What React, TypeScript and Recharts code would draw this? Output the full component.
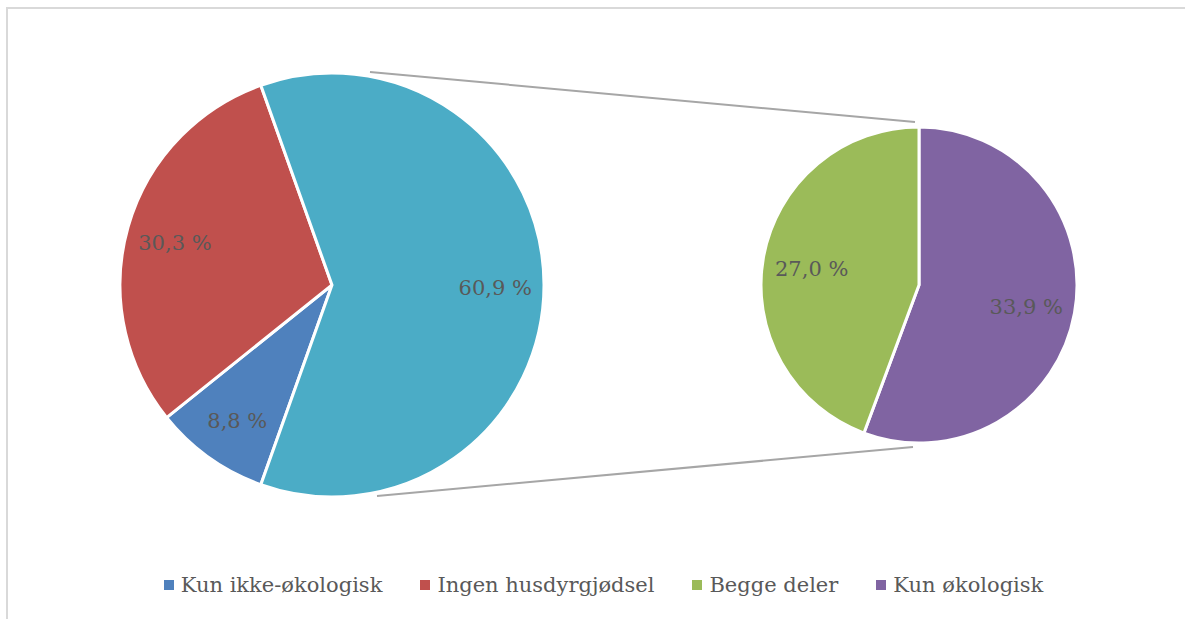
import React from 'react';
import { PieChart, Pie, Cell, Legend } from 'recharts';

// ---- data ----
const categories = ['Kun ikke-økologisk', 'Ingen husdyrgjødsel', 'Begge deler', 'Kun økologisk'];
const values = [8.8, 30.3, 27.0, 33.9];
const colors = ['#4F81BD', '#C0504D', '#9BBB59', '#8064A2'];
const otherName = 'Andre';
const otherColor = '#4BACC6';

// main pie: first two categories + aggregated "other" (sum of the split-out categories)
const otherValue = Math.round((values[2] + values[3]) * 10) / 10;
const mainData = [
  { name: categories[0], value: values[0], color: colors[0] },
  { name: categories[1], value: values[1], color: colors[1] },
  { name: otherName, value: otherValue, color: otherColor },
];
// secondary pie: the split-out categories
const subData = [
  { name: categories[3], value: values[3], color: colors[3] },
  { name: categories[2], value: values[2], color: colors[2] },
];

// ---- layout ----
const W = 1185;
const H = 619;
const C1 = { x: 332, y: 285, r: 212 };
const C2 = { x: 919, y: 285, r: 158 };
const FONT = '"DejaVu Serif", serif';
const TEXT = '#595959';
const RAD = Math.PI / 180;

const otherHalf = (360 * otherValue) / (values[0] + values[1] + otherValue) / 2;
const mainStart = -otherHalf;

const fmt = (v: number) => v.toFixed(1).replace('.', ',') + ' %';

const makeLabel = (factor: number) => (p: any) => {
  const r = p.outerRadius * factor;
  const x = p.cx + r * Math.cos(-p.midAngle * RAD);
  const y = p.cy + r * Math.sin(-p.midAngle * RAD) + 3;
  return (
    <text x={x} y={y} fill={TEXT} textAnchor="middle" dominantBaseline="central"
      style={{ fontFamily: FONT, fontSize: 21 }}>
      {fmt(p.value)}
    </text>
  );
};

const LegendContent = () => (
  <div style={{ display: 'flex', justifyContent: 'center', paddingLeft: 22, fontFamily: FONT, fontSize: 21, color: TEXT }}>
    {categories.map((c, i) => (
      <div key={c} style={{ display: 'flex', alignItems: 'center', marginRight: i < categories.length - 1 ? 38 : 0 }}>
        <span style={{ display: 'inline-block', width: 10, height: 10, background: colors[i], marginRight: 7 }} />
        <span>{c}</span>
      </div>
    ))}
  </div>
);

export default function App() {
  return (
    <div style={{ position: 'fixed', left: 0, top: 0, width: W, height: H, background: '#fff', overflow: 'hidden' }}>
      <div style={{ position: 'absolute', left: 6, top: 7, width: W + 20, height: H + 20, borderLeft: '2px solid #d9d9d9', borderTop: '2px solid #d9d9d9' }} />
      <svg width={W} height={H} style={{ position: 'absolute', left: 0, top: 0 }}>
        <line x1={C1.x + 38} y1={C1.y - C1.r - 1} x2={C2.x - 4} y2={C2.y - C2.r - 5} stroke="#a6a6a6" strokeWidth={2} />
        <line x1={C1.x + 45} y1={C1.y + C1.r - 1} x2={C2.x - 6} y2={C2.y + C2.r + 4} stroke="#a6a6a6" strokeWidth={2} />
      </svg>
      <div style={{ position: 'absolute', left: 0, top: 0 }}>
        <PieChart width={W} height={H} margin={{ top: 0, right: 0, bottom: 0, left: 0 }}>
          <Pie data={mainData} dataKey="value" nameKey="name" cx={C1.x} cy={C1.y} outerRadius={C1.r}
            startAngle={mainStart} endAngle={mainStart - 360} stroke="#fff" strokeWidth={3}
            isAnimationActive={false} label={makeLabel(0.77)} labelLine={false}>
            {mainData.map((d) => <Cell key={d.name} fill={d.color} />)}
          </Pie>
          <Pie data={subData} dataKey="value" nameKey="name" cx={C2.x} cy={C2.y} outerRadius={C2.r}
            startAngle={90} endAngle={-270} stroke="#fff" strokeWidth={3}
            isAnimationActive={false} label={makeLabel(0.69)} labelLine={false}>
            {subData.map((d) => <Cell key={d.name} fill={d.color} />)}
          </Pie>
          <Legend content={<LegendContent />} wrapperStyle={{ position: 'absolute', left: 0, top: 573, width: W }} />
        </PieChart>
      </div>
    </div>
  );
}
